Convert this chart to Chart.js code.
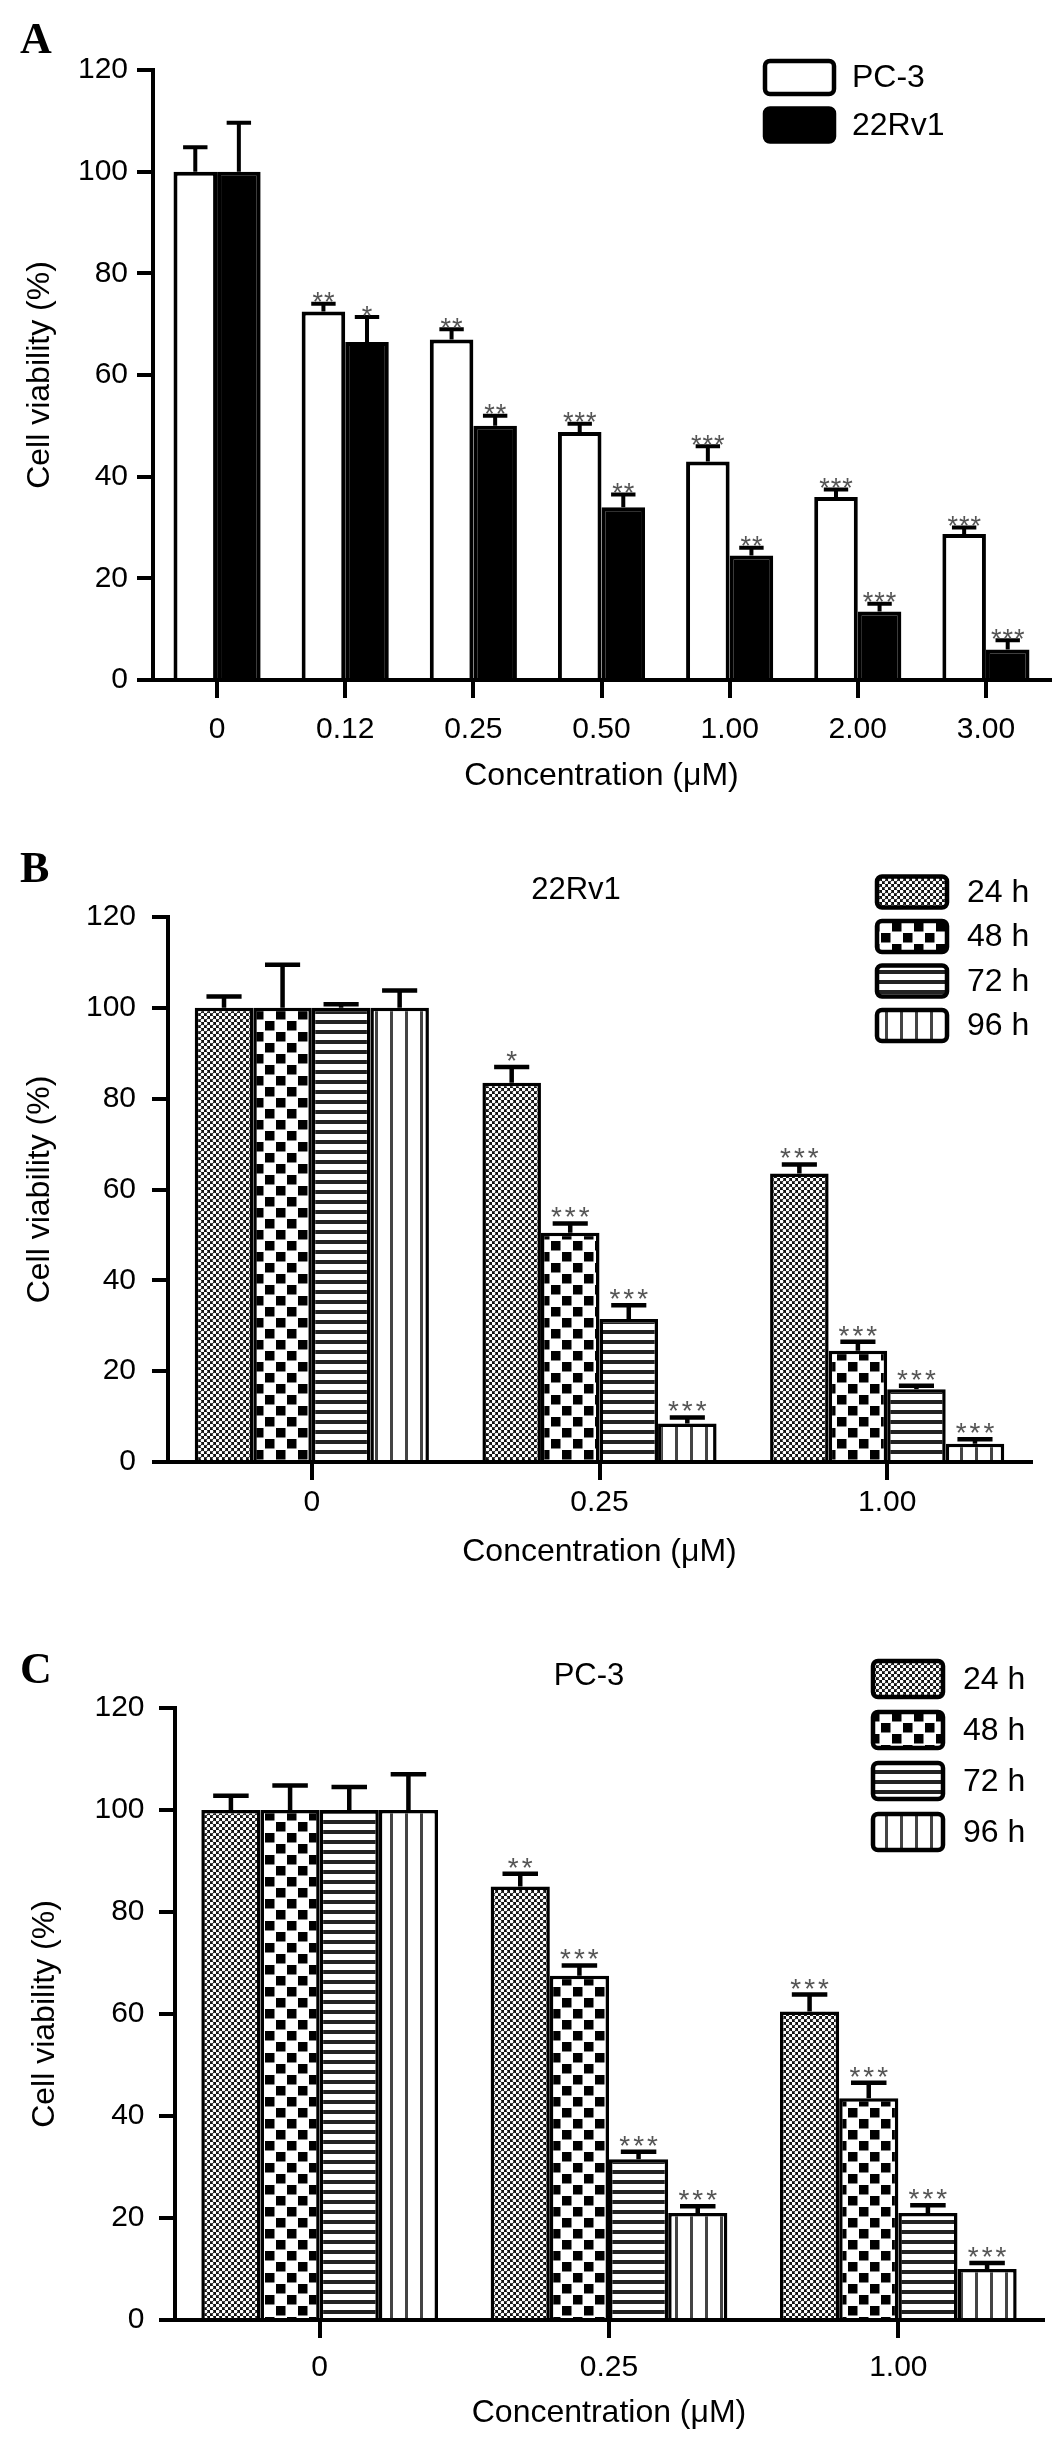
<!DOCTYPE html>
<html>
<head>
<meta charset="utf-8">
<script src="https://cdn.jsdelivr.net/npm/chart.js@4.4.1/dist/chart.umd.min.js"></script>
<style>
  html, body { margin: 0; padding: 0; background: #fff; }
  body { width: 1063px; height: 2439px; position: relative; overflow: hidden; }
  .panel { position: absolute; left: 0; width: 1063px; }
</style>
</head>
<body>
<div class="panel" style="top:0;height:800px"><canvas id="chartA"></canvas></div>
<div class="panel" style="top:800px;height:790px"><canvas id="chartB"></canvas></div>
<div class="panel" style="top:1590px;height:849px"><canvas id="chartC"></canvas></div>
<script>
// ---- panel A: PC-3 vs 22Rv1 ----
const concA = ['0', '0.12', '0.25', '0.50', '1.00', '2.00', '3.00'];
const pc3A = [100, 72.5, 67, 48.8, 43, 36, 28.7];
const pc3ErrA = [104.8, 74, 69, 50.4, 46, 37.5, 30];
const pc3StarsA = ['', '**', '**', '***', '***', '***', '***'];
const rvA = [100, 66.5, 50, 34, 24.5, 13.5, 6];
const rvErrA = [109.6, 71.4, 52, 36.5, 26, 15, 7.8];
const rvStarsA = ['', '*', '**', '**', '**', '***', '***'];

// ---- panel B: 22Rv1 over time ----
const concB = ['0', '0.25', '1.00'];
const h24B = [100, 83.5, 63.5];
const h24ErrB = [102.5, 87, 65.5];
const h24StarsB = ['', '*', '***'];
const h48B = [100, 50.5, 24.5];
const h48ErrB = [109.5, 52.5, 26.5];
const h48StarsB = ['', '***', '***'];
const h72B = [100, 31.5, 16];
const h72ErrB = [100.8, 34.5, 16.8];
const h72StarsB = ['', '***', '***'];
const h96B = [100, 8.5, 4];
const h96ErrB = [103.8, 9.8, 5];
const h96StarsB = ['', '***', '***'];

// ---- panel C: PC-3 over time ----
const concC = ['0', '0.25', '1.00'];
const h24C = [100, 85, 60.5];
const h24ErrC = [102.8, 87.5, 63.8];
const h24StarsC = ['', '**', '***'];
const h48C = [100, 67.5, 43.5];
const h48ErrC = [104.8, 69.5, 46.5];
const h48StarsC = ['', '***', '***'];
const h72C = [100, 31.5, 21];
const h72ErrC = [104.5, 33, 22.5];
const h72StarsC = ['', '***', '***'];
const h96C = [100, 21, 10];
const h96ErrC = [107, 22.3, 11.2];
const h96StarsC = ['', '***', '***'];

const yTicks = [0, 20, 40, 60, 80, 100, 120];
const timeLabels = ['24 h', '48 h', '72 h', '96 h'];

Chart.defaults.font.family = "'Liberation Sans', Arial, sans-serif";
Chart.defaults.color = '#000';

// fill patterns
function makePattern(w, h, draw) {
  const c = document.createElement('canvas');
  c.width = w; c.height = h;
  const g = c.getContext('2d');
  draw(g, w, h);
  return g.createPattern(c, 'repeat');
}
const dotPat = makePattern(6, 6, (g) => {
  g.fillStyle = '#111'; g.fillRect(0, 0, 6, 6);
  g.fillStyle = '#fff';
  g.beginPath(); g.arc(1.5, 1.5, 1.85, 0, Math.PI * 2); g.fill();
  g.beginPath(); g.arc(4.5, 4.5, 1.85, 0, Math.PI * 2); g.fill();
});
const checkPat = makePattern(22, 22, (g) => {
  g.fillStyle = '#fff'; g.fillRect(0, 0, 22, 22);
  g.fillStyle = '#000';
  g.fillRect(1, 1, 9.5, 9.5); g.fillRect(12, 12, 9.5, 9.5);
});
const hStripePat = makePattern(4, 10, (g) => {
  g.fillStyle = '#fff'; g.fillRect(0, 0, 4, 10);
  g.fillStyle = '#222'; g.fillRect(0, 0, 4, 4);
});
const vStripePat = makePattern(15, 4, (g) => {
  g.fillStyle = '#fff'; g.fillRect(0, 0, 15, 4);
  g.fillStyle = '#444'; g.fillRect(0, 0, 3, 4);
});
const timePatterns = [dotPat, checkPat, hStripePat, vStripePat];

const errorBars = {
  id: 'errorBars',
  afterDatasetsDraw(chart, args, opts) {
    const ctx = chart.ctx, y = chart.scales.y;
    ctx.save();
    chart.data.datasets.forEach((ds, i) => {
      const meta = chart.getDatasetMeta(i);
      meta.data.forEach((bar, j) => {
        const top = y.getPixelForValue(ds.errTop[j]);
        const half = bar.width * opts.cap / 2;
        ctx.strokeStyle = '#000';
        ctx.lineWidth = opts.lineWidth;
        ctx.beginPath();
        ctx.moveTo(bar.x, bar.y);
        ctx.lineTo(bar.x, top);
        ctx.moveTo(bar.x - half, top);
        ctx.lineTo(bar.x + half, top);
        ctx.stroke();
        const s = ds.stars[j];
        if (s) {
          ctx.fillStyle = '#555';
          ctx.font = opts.starSize + "px 'Liberation Sans', Arial";
          ctx.letterSpacing = opts.starSpacing + 'px';
          ctx.textAlign = 'center';
          ctx.textBaseline = 'alphabetic';
          ctx.fillText(s, bar.x + opts.starSpacing / 2, top - opts.starGap + 0.425 * opts.starSize);
          ctx.letterSpacing = '0px';
        }
      });
    });
    ctx.restore();
  }
};

const panelDeco = {
  id: 'panelDeco',
  afterDraw(chart, args, opts) {
    const ctx = chart.ctx;
    ctx.save();
    ctx.fillStyle = '#000';
    ctx.font = "bold 44px 'Liberation Serif', 'Times New Roman', serif";
    ctx.textAlign = 'left';
    ctx.textBaseline = 'alphabetic';
    ctx.fillText(opts.letter, 20, opts.letterY);
    ctx.font = "31px 'Liberation Sans', Arial";
    if (opts.title) {
      ctx.textAlign = 'center';
      ctx.textBaseline = 'middle';
      ctx.fillText(opts.title, opts.titleX, opts.titleY);
    }
    const lg = opts.legend;
    chart.data.datasets.forEach((ds, i) => {
      const cy = lg.rows[i];
      ctx.beginPath();
      if (ctx.roundRect) ctx.roundRect(lg.x, cy - lg.h / 2, lg.w, lg.h, 5);
      else ctx.rect(lg.x, cy - lg.h / 2, lg.w, lg.h);
      ctx.fillStyle = ds.backgroundColor;
      ctx.fill();
      ctx.lineWidth = 4.5;
      ctx.strokeStyle = '#000';
      ctx.stroke();
      ctx.fillStyle = '#000';
      ctx.font = "32px 'Liberation Sans', Arial";
      ctx.textAlign = 'left';
      ctx.textBaseline = 'middle';
      ctx.fillText(ds.label, lg.textX, cy + 1);
    });
    ctx.restore();
  }
};

function axes(p) {
  return {
    x: {
      offset: true,
      z: 1,
      ticks: { color: '#000', font: { size: 30 }, padding: p.xPad, maxRotation: 0 },
      grid: { offset: false, drawOnChartArea: false, drawTicks: true, tickLength: 18, tickWidth: 4, lineWidth: 4, color: '#000' },
      border: { display: true, color: '#000', width: 4 },
      title: { display: true, text: 'Concentration (μM)', color: '#000', font: { size: 32 }, padding: { top: 0, bottom: p.xTitlePad } },
      afterFit: (s) => { s.height = p.xHeight; }
    },
    y: {
      min: 0, max: 120,
      afterBuildTicks: (s) => { s.ticks = yTicks.map(v => ({ value: v })); },
      ticks: { color: '#000', font: { size: 30 }, padding: p.yPad },
      grid: { drawOnChartArea: false, drawTicks: true, tickLength: 16, tickWidth: 4, lineWidth: 4, color: '#000' },
      border: { display: true, color: '#000', width: 4 },
      title: { display: true, text: 'Cell viability (%)', color: '#000', font: { size: 32 }, padding: { top: p.yTitlePad, bottom: 0 } },
      afterFit: (s) => { s.width = p.yWidth; }
    }
  };
}

function timeDatasets(vals, errs, stars) {
  return vals.map((v, i) => ({
    label: timeLabels[i],
    data: v,
    errTop: errs[i],
    stars: stars[i],
    backgroundColor: timePatterns[i],
    borderColor: '#000',
    borderWidth: 3.5
  }));
}

new Chart(document.getElementById('chartA'), {
  type: 'bar',
  data: {
    labels: concA,
    datasets: [
      { label: 'PC-3', data: pc3A, errTop: pc3ErrA, stars: pc3StarsA, backgroundColor: '#fff', borderColor: '#000', borderWidth: 4 },
      { label: '22Rv1', data: rvA, errTop: rvErrA, stars: rvStarsA, backgroundColor: '#000', borderColor: '#000', borderWidth: 4 }
    ]
  },
  options: {
    responsive: true, maintainAspectRatio: false, animation: false,
    layout: { padding: { top: 70, right: 13, left: 0, bottom: 0 } },
    datasets: { bar: { categoryPercentage: 0.68, barPercentage: 1 } },
    scales: axes({ xPad: 14, xTitlePad: 5, xHeight: 120, yPad: 9, yTitlePad: 21, yWidth: 153 }),
    plugins: {
      legend: { display: false }, tooltip: { enabled: false },
      errorBars: { cap: 0.56, lineWidth: 4, starSize: 27, starSpacing: 1, starGap: 4 },
      panelDeco: { letter: 'A', letterY: 53, legend: { x: 765, w: 69, h: 33, rows: [77.5, 125], textX: 852 } }
    }
  },
  plugins: [errorBars, panelDeco]
});

new Chart(document.getElementById('chartB'), {
  type: 'bar',
  data: {
    labels: concB,
    datasets: timeDatasets([h24B, h48B, h72B, h96B], [h24ErrB, h48ErrB, h72ErrB, h96ErrB], [h24StarsB, h48StarsB, h72StarsB, h96StarsB])
  },
  options: {
    responsive: true, maintainAspectRatio: false, animation: false,
    layout: { padding: { top: 117, right: 32, left: 0, bottom: 0 } },
    datasets: { bar: { categoryPercentage: 0.814, barPercentage: 1 } },
    scales: axes({ xPad: 5, xTitlePad: 19, xHeight: 128, yPad: 16, yTitlePad: 21, yWidth: 168 }),
    plugins: {
      legend: { display: false }, tooltip: { enabled: false },
      errorBars: { cap: 0.6, lineWidth: 4.5, starSize: 28, starSpacing: 3, starGap: 9 },
      panelDeco: { letter: 'B', letterY: 82, title: '22Rv1', titleX: 576, titleY: 90,
        legend: { x: 877, w: 70, h: 31, rows: [92, 136.5, 181, 225.5], textX: 967 } }
    }
  },
  plugins: [errorBars, panelDeco]
});

new Chart(document.getElementById('chartC'), {
  type: 'bar',
  data: {
    labels: concC,
    datasets: timeDatasets([h24C, h48C, h72C, h96C], [h24ErrC, h48ErrC, h72ErrC, h96ErrC], [h24StarsC, h48StarsC, h72StarsC, h96StarsC])
  },
  options: {
    responsive: true, maintainAspectRatio: false, animation: false,
    layout: { padding: { top: 118, right: 20, left: 0, bottom: 0 } },
    datasets: { bar: { categoryPercentage: 0.818, barPercentage: 1 } },
    scales: axes({ xPad: 12, xTitlePad: 7, xHeight: 119, yPad: 14.5, yTitlePad: 26, yWidth: 175 }),
    plugins: {
      legend: { display: false }, tooltip: { enabled: false },
      errorBars: { cap: 0.6, lineWidth: 4.5, starSize: 28, starSpacing: 3, starGap: 9 },
      panelDeco: { letter: 'C', letterY: 93, title: 'PC-3', titleX: 589, titleY: 86,
        legend: { x: 873, w: 70, h: 36, rows: [89, 140, 191, 242], textX: 963 } }
    }
  },
  plugins: [errorBars, panelDeco]
});
</script>
</body>
</html>
